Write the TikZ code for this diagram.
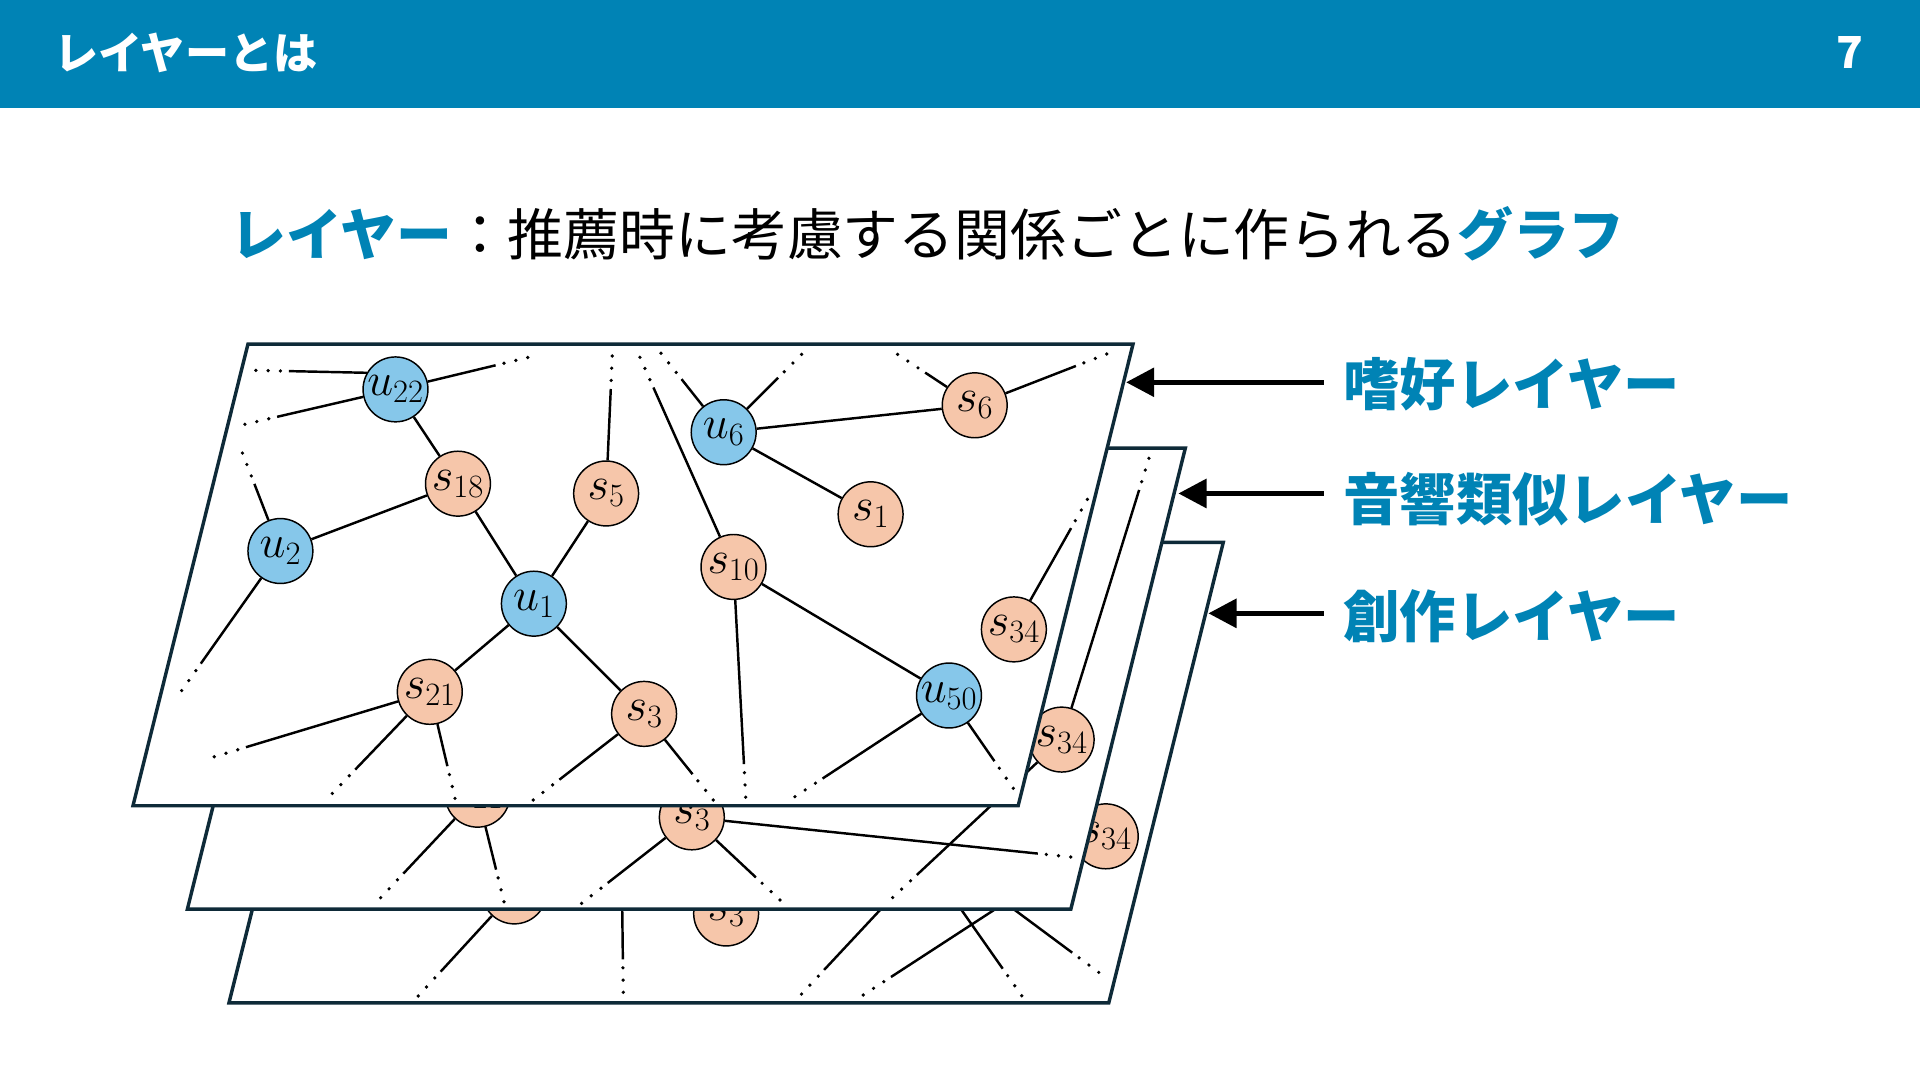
\RequirePackage{fix-cm}
\documentclass[tikz,border=0pt]{standalone}
\usepackage{fontspec}
\newfontfamily\jp{Noto Sans CJK JP}
\usetikzlibrary{calc,arrows.meta}
\definecolor{hdr}{RGB}{0,131,181}
\definecolor{ublue}{RGB}{134,199,234}
\definecolor{salmon}{RGB}{246,198,170}
\definecolor{planeln}{RGB}{14,42,56}
\tikzset{
  plane/.style={draw=planeln, line width=2.8pt, fill=white, line join=miter},
  unode/.style={circle, draw=black, line width=1.2pt, fill=ublue, minimum size=53pt, inner sep=0pt, font=\fontsize{38}{42}\selectfont},
  snode/.style={unode, fill=salmon},
  lnk/.style={draw=black, line width=2pt},
  layerarrow/.style={-{Triangle[length=23pt,width=23pt]}, line width=4.5pt},
  layerlabel/.style={anchor=west, inner sep=0pt, text=hdr, font=\jp\bfseries\fontsize{46}{50}\selectfont},
}
\newcommand\dedge[2]{%
  \draw[lnk] (#1) -- ($(#2)!27pt!(#1)$);
  \foreach \dd in {0pt,10pt,20pt} \fill ($(#2)!\dd!(#1)$) circle (1.5pt);
}
\begin{document}
\begin{tikzpicture}[x=1pt,y=-1pt]
\useasboundingbox (0,0) rectangle (1568,882);
% header
\fill[hdr] (0,0) rectangle (1568,88);
\node (ttl) [anchor=west, inner sep=0pt, text=white, font=\jp\bfseries\fontsize{36}{40}\selectfont] at (44,43) {レイヤーとは};
\node (pg) [anchor=east, inner sep=0pt, text=white, font=\jp\bfseries\fontsize{36}{40}\selectfont] at (1522,43) {7};
% subtitle
\node (sub) [anchor=west, inner sep=0pt, font=\jp\fontsize{45.6}{50}\selectfont] at (188,191)
  {{\bfseries\color{hdr}レイヤー}：推薦時に考慮する関係ごとに作られる{\bfseries\color{hdr}グラフ}};

% ---------- plane 3 ----------
\draw[plane] (281,443) -- (999,443) -- (905.5,819) -- (187,819) -- cycle;
\node[snode] (c21) at (420,728) {$s_{21}$};
\node[snode] (c3) at (593,746) {$s_{3}$};
\node[snode] (c34) at (903,683) {$s_{34}$};
\coordinate (p3a) at (508,730);
\coordinate (p3b) at (731,730);
\coordinate (p3c) at (832,730);
\coordinate (p3d) at (776,730);
\coordinate (p3e) at (811,730);
\dedge{c21}{341.6,813.4}
\dedge{p3a}{509,810.4}
\dedge{p3b}{654.6,811.8}
\dedge{p3c}{705,812.6}
\dedge{p3d}{834.4,813.2}
\dedge{p3e}{897.3,794.1}

% ---------- plane 2 ----------
\draw[plane] (247,366) -- (968,366) -- (874.5,742.5) -- (153,742.5) -- cycle;
\node[snode] (b21) at (390,649) {$s_{21}$};
\node[snode] (b3) at (565,667.5) {$s_{3}$};
\node[snode] (b34) at (867,604) {$s_{34}$};
\dedge{b21}{310.9,733.1}
\dedge{b21}{411.6,736.4}
\dedge{b3}{475,737.7}
\dedge{b3}{637,735}
\dedge{b3}{874.4,699.9}
\dedge{b34}{729,733}
\dedge{b34}{938.3,374.3}

% ---------- plane 1 ----------
\draw[plane] (202.5,281) -- (925.3,281) -- (831.5,658) -- (108.6,658) -- cycle;
\node[unode] (u22) at (323,318) {$u_{22}$};
\node[snode] (s18) at (374,395) {$s_{18}$};
\node[snode] (s5) at (495,403) {$s_{5}$};
\node[unode] (u6) at (591,353) {$u_{6}$};
\node[snode] (s6) at (796,331) {$s_{6}$};
\node[snode] (s1) at (711,420) {$s_{1}$};
\node[unode] (u2) at (229,450) {$u_{2}$};
\node[unode] (u1) at (436,493) {$u_{1}$};
\node[snode] (s10) at (599,463) {$s_{10}$};
\node[snode] (s34) at (828,514) {$s_{34}$};
\node[snode] (s21) at (351,565) {$s_{21}$};
\node[snode] (s3) at (526,583) {$s_{3}$};
\node[unode] (u50) at (775,568) {$u_{50}$};
\draw[lnk] (u22) -- (s18);
\draw[lnk] (s18) -- (u2);
\draw[lnk] (s18) -- (u1);
\draw[lnk] (u1) -- (s5);
\draw[lnk] (u1) -- (s21);
\draw[lnk] (u1) -- (s3);
\draw[lnk] (u6) -- (s6);
\draw[lnk] (u6) -- (s1);
\draw[lnk] (s10) -- (u50);
\dedge{u22.150}{209,302.5}
\dedge{u22}{200,346.5}
\dedge{u22}{431,292}
\dedge{u2}{198,370}
\dedge{u2}{148.4,564}
\dedge{s5}{500,290.7}
\dedge{s10}{522.6,291.8}
\dedge{s10}{609,651}
\dedge{u6}{539.8,288.5}
\dedge{u6}{654.6,289.4}
\dedge{s6}{733,289.4}
\dedge{s6}{903.8,289.1}
\dedge{s34}{888,407.8}
\dedge{s21}{175,618}
\dedge{s21}{271.4,648}
\dedge{s21}{371.6,652}
\dedge{s3}{435.5,653.3}
\dedge{s3}{582.5,653.3}
\dedge{u50}{649.2,650.6}
\dedge{u50}{827.5,643.8}

% ---------- labels and arrows ----------
\node[layerlabel] (l1) at (1097,313.6) {嗜好レイヤー};
\node[layerlabel] (l2) at (1097,408) {音響類似レイヤー};
\node[layerlabel] (l3) at (1097,503.6) {創作レイヤー};
\coordinate (t1) at (919.6,312.2);
\coordinate (t2) at (962.3,403);
\coordinate (t3) at (986.8,500.9);
\draw[layerarrow] ([xshift=-16pt]l1.west |- t1) -- (t1);
\draw[layerarrow] ([xshift=-16pt]l2.west |- t2) -- (t2);
\draw[layerarrow] ([xshift=-16pt]l3.west |- t3) -- (t3);
\end{tikzpicture}
\end{document}
